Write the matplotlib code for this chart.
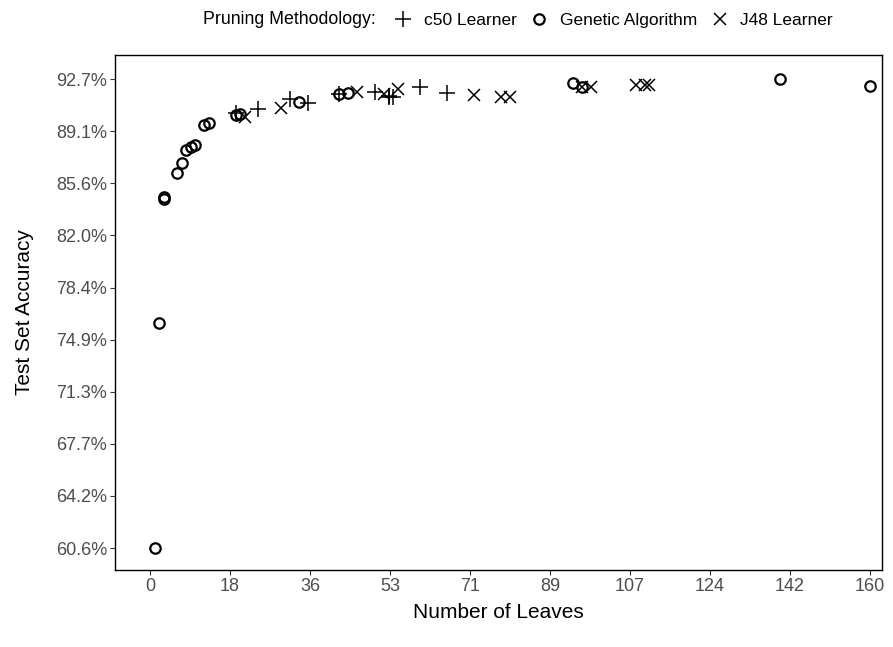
import matplotlib
matplotlib.use("Agg")
import matplotlib.pyplot as plt
from matplotlib.lines import Line2D
import numpy as np

# data
ga_leaves = [1, 2, 3, 3, 6, 7, 8, 9, 10, 12, 13, 19, 20, 33, 42, 44, 94, 96, 140, 160]
ga_acc = [60.6, 76.0, 84.5, 84.6, 86.3, 86.95, 87.85, 88.05, 88.2, 89.55,
          89.7, 90.25, 90.3, 91.15, 91.65, 91.75, 92.4, 92.15, 92.7, 92.2]

c50_leaves = [19, 24, 31, 35, 42, 50, 53, 53, 54, 60, 66]
c50_acc = [90.4, 90.65, 91.35, 91.05, 91.7, 91.8, 91.5, 91.55, 91.5, 92.15, 91.75]

j48_leaves = [21, 29, 46, 52, 55, 72, 78, 80, 96, 98, 108, 110, 111]
j48_acc = [90.1, 90.7, 91.85, 91.7, 92.0, 91.6, 91.5, 91.45, 92.15, 92.15, 92.3, 92.3, 92.3]

x_ticks = np.linspace(0, 160, 10)
y_ticks = np.linspace(60.6, 92.7, 10)

font = "Liberation Sans"

fig = plt.figure(figsize=(8.93, 6.47), dpi=100)
ax = fig.add_axes([115 / 893, 77 / 647, 767 / 893, 515 / 647])

ax.plot(c50_leaves, c50_acc, linestyle="none", marker="+", markersize=12,
        markeredgewidth=1.1, color="black")
ax.plot(ga_leaves, ga_acc, linestyle="none", marker="o", markersize=7.5,
        markerfacecolor="none", markeredgewidth=1.6, color="black")
ax.plot(j48_leaves, j48_acc, linestyle="none", marker="x", markersize=8.5,
        markeredgewidth=1.1, color="black")

ax.set_xlim(-7.8, 162.7)
ax.set_ylim(59.1, 94.35)
ax.set_xticks(x_ticks)
ax.set_xticklabels([f"{v:.0f}" for v in x_ticks], fontfamily=font, fontsize=13)
ax.set_yticks(y_ticks)
ax.set_yticklabels([f"{v:.1f}%" for v in y_ticks], fontfamily=font, fontsize=13)
ax.tick_params(colors="#333333", labelcolor="#4D4D4D", length=3.6, width=0.8, pad=2)

for s in ax.spines.values():
    s.set_color("black")
    s.set_linewidth(1.0)

ax.set_xlabel("Number of Leaves", fontfamily=font, fontsize=15, labelpad=6)
ax.set_ylabel("Test Set Accuracy", fontfamily=font, fontsize=15, labelpad=16)

# legend on top
fig.text(203 / 893, 1 - 20 / 647, "Pruning Methodology:", fontfamily=font,
         fontsize=12.8, va="center", ha="left")
handles = [
    Line2D([], [], linestyle="none", marker="+", markersize=12, markeredgewidth=1.1, color="black"),
    Line2D([], [], linestyle="none", marker="o", markersize=7.5, markerfacecolor="none",
           markeredgewidth=1.6, color="black"),
    Line2D([], [], linestyle="none", marker="x", markersize=8.5, markeredgewidth=1.1, color="black"),
]
labels = ["c50 Learner", "Genetic Algorithm", "J48 Learner"]
fig.legend(handles, labels, ncol=3, loc="center left",
           bbox_to_anchor=(394 / 893, 1 - 20 / 647), frameon=False,
           handlelength=1.0, handletextpad=0.7, columnspacing=0.8,
           borderaxespad=0, borderpad=0,
           prop={"family": font, "size": 12.5})

fig.savefig("out.png", dpi=100)
